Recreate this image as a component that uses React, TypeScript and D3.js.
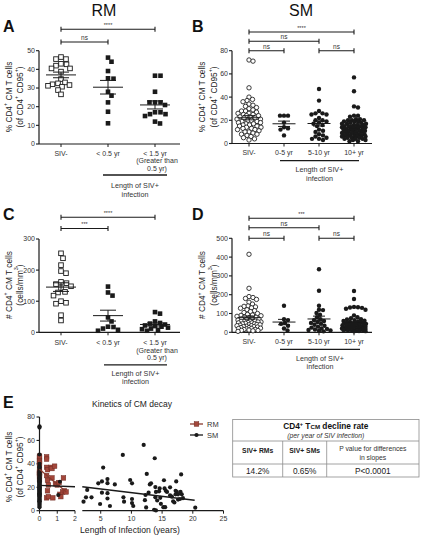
import React from "react";
import * as d3 from "d3";

const FONT = "'Liberation Sans', Arial, Helvetica, sans-serif";
const INK = "#1a1a1a";

// ---------- categories ----------
const rmCategories = ["SIV-", "< 0.5 yr", "< 1.5 yr"];
const smCategories = ["SIV-", "0-5 yr", "5-10 yr", "10+ yr"];
const rmCatLabels = [["SIV-"], ["< 0.5 yr"], ["< 1.5 yr", "(Greater than", "0.5 yr)"]];
const smCatLabels = [["SIV-"], ["0-5 yr"], ["5-10 yr"], ["10+ yr"]];

// ---------- Panel A: % CD4+ CM (RM) ----------
const rmPctSivNeg = [46.6, 45.5, 45.5, 43, 42.7, 42, 40.5, 40.5, 38.8, 34.8, 33, 32.5, 32, 31.6, 31.2, 30.7, 28.9, 26.6];
const rmPctLt05 = [46.3, 44.1, 39.1, 35.2, 35, 28, 25.9, 22.3, 17.3, 11.1];
const rmPctLt15 = [36.6, 36.6, 28, 22.3, 22.3, 22.3, 20.9, 17, 16, 15, 16, 17, 11, 12];

// ---------- Panel B: % CD4+ CM (SM) ----------
const smPctSivNeg = [72, 71, 48, 40, 38, 37, 36, 34, 33, 32, 31, 30, 29, 28, 28, 27, 26, 26, 25, 25, 24, 24, 23, 23, 22, 22, 21, 21, 20, 20, 19, 19, 18, 18, 17, 17, 16, 16, 15, 15, 14, 14, 13, 13, 12, 12, 11, 10, 10, 9, 8, 8, 7, 6, 5, 4, 3];
const smPct0to5 = [24, 24, 24, 18, 14, 13, 12, 7];
const smPct5to10 = [47, 37, 28, 26, 26, 25, 25, 22, 20, 20, 19, 18, 17, 16, 15, 12, 11, 10, 8, 7, 6, 5, 4, 4, 3];
const smPct10plus = [57, 45, 32, 31, 24, 24, 23, 21, 21, 20, 20, 20, 19, 19, 19, 18, 18, 17, 17, 17, 16, 16, 16, 15, 15, 15, 15, 14, 14, 14, 13, 13, 13, 12, 12, 12, 12, 11, 11, 11, 10, 10, 10, 10, 9, 9, 9, 8, 8, 8, 8, 7, 7, 7, 6, 6, 6, 6, 5, 5, 5, 4, 4, 4, 3, 3, 2, 2];

// ---------- Panel C: # CD4+ CM (RM) ----------
const rmCntSivNeg = [254, 238, 216, 197, 190, 162, 158, 155, 148, 142, 130, 128, 118, 100, 95, 92, 55, 38];
const rmCntLt05 = [147, 128, 118, 48, 35, 18, 17, 12, 8, 5];
const rmCntLt15 = [65, 60, 35, 30, 28, 25, 22, 20, 18, 15, 12, 10, 8, 5];

// ---------- Panel D: # CD4+ CM (SM) ----------
const smCntSivNeg = [415, 234, 190, 185, 180, 175, 160, 150, 140, 138, 135, 130, 128, 120, 115, 110, 105, 100, 95, 92, 90, 88, 85, 82, 80, 78, 75, 72, 70, 68, 65, 62, 60, 60, 58, 55, 55, 52, 50, 50, 48, 45, 45, 42, 40, 40, 38, 35, 35, 32, 30, 30, 28, 25, 25, 22, 20, 20, 18, 15, 15, 12, 10, 10, 8, 5];
const smCnt0to5 = [141, 70, 65, 50, 45, 35, 20, 10];
const smCnt5to10 = [335, 221, 141, 120, 118, 103, 93, 80, 70, 65, 60, 55, 50, 45, 40, 35, 30, 25, 20, 18, 15, 12, 10, 8, 5];
const smCnt10plus = [220, 177, 135, 133, 132, 130, 125, 120, 90, 80, 75, 70, 68, 65, 62, 60, 58, 55, 55, 52, 50, 50, 48, 45, 45, 42, 40, 40, 38, 36, 35, 34, 32, 30, 30, 28, 27, 26, 25, 24, 22, 21, 20, 20, 19, 18, 17, 16, 15, 14, 13, 12, 11, 10, 9, 8, 7, 6, 5];

// ---------- Panel E: kinetics ----------
const rmInfYears = [0.4, 0.4, 0.4, 0.45, 0.4, 0.45, 0.5, 0.45, 0.4, 0.5, 0.65, 0.7, 0.85, 0.7, 0.9, 1.0, 1.1, 1.15, 1.2, 1.3, 1.35, 1.4, 1.5, 0.75];
const rmInfPct = [46, 44, 37, 35, 30, 26, 22, 17, 11, 12, 37, 36, 38, 28, 23, 22, 24, 14, 12, 16, 28, 17, 16, 11];
const smInfYears = [1.15, 1.06, 2.2, 2.6, 2.8, 3.5, 4.6, 5.2, 5.4, 5.2, 4.9, 6.1, 6.1, 6.1, 6.1, 6.5, 7.3, 8.6, 8.7, 8.8, 9.8, 10.1, 10.1, 10.1, 10.3, 12, 12.5, 12.8, 12.3, 12.2, 12.4, 13, 13.2, 13.8, 13.9, 14, 13.9, 13.7, 14, 14.2, 14.8, 14.7, 14.6, 14.5, 15.2, 15.5, 15.4, 15.6, 15.8, 16.3, 16.6, 16.8, 17, 17.2, 17.4, 17.2, 17.6, 17.6, 17.9, 17.3, 18.1, 18, 18.2, 18.4, 20.4, 15.3, 16.3];
const smInfPct = [24.7, 13.4, 7.7, 11.4, 17.7, 11.4, 23.4, 25, 36.8, 15.4, 5.7, 27, 23.5, 15, 10.4, 4, 22.4, 47.6, 11.4, 7.7, 26.2, 23.4, 10, 6.5, 4, 56.2, 31.4, 15.4, 13.4, 9, 2.8, 22.4, 23.4, 44.8, 20.2, 16, 11.4, 0.8, 0.2, 8.7, 5.9, 11, 19, 16.5, 3, 3, 19, 17, 16, 13, 12, 8, 7, 17, 16, 14, 14, 9.5, 10, 25, 31, 16, 14, 10.7, 2.6, 26, 20];
const rmFit = { intercept: 35.4, slope: -12.8, from: 0, to: 1.5 };
const smFit = { intercept: 21.7, slope: -0.63, from: 0, to: 20.3 };

// ---------- table ----------
const tableHeaders = ["SIV+ RMs", "SIV+ SMs"];
const tableValues = ["14.2%", "0.65%", "P<0.0001"];

// ---------- helpers ----------
function swarm(vals: number[], ypx: (v: number) => number, d: number, maxHalf: number, step = 0.5) {
  const pts = vals.map((v) => ({ v, y: ypx(v), dx: 0 }));
  const order = pts.slice().sort((a, b) => a.y - b.y);
  const placed: { v: number; y: number; dx: number }[] = [];
  const offsets: number[] = [0];
  for (let k = 1; k * step <= maxHalf; k++) offsets.push(k * step, -k * step);
  for (const p of order) {
    let bestOff = 0;
    let bestScore = -1;
    for (const off of offsets) {
      let minD = Infinity;
      for (const q of placed) {
        const dd = Math.hypot(q.dx - off, q.y - p.y);
        if (dd < minD) minD = dd;
      }
      if (minD >= d) {
        bestOff = off;
        break;
      }
      if (minD > bestScore + 0.4) {
        bestScore = minD;
        bestOff = off;
      }
    }
    p.dx = bestOff;
    placed.push(p);
  }
  return pts;
}

type Part = string | { sup: string };
function Rich({ parts, fs }: { parts: Part[]; fs: number }) {
  const out: React.ReactNode[] = [];
  let raised = false;
  parts.forEach((p, i) => {
    if (typeof p === "string") {
      out.push(
        <tspan key={i} dy={raised ? fs * 0.38 : 0}>
          {p}
        </tspan>
      );
      raised = false;
    } else {
      out.push(
        <tspan key={i} dy={-fs * 0.38} fontSize={fs * 0.65}>
          {p.sup}
        </tspan>
      );
      raised = true;
    }
  });
  return <>{out}</>;
}

function Marker({ shape, x, y, s }: { shape: string; x: number; y: number; s: number }) {
  if (shape === "openSquare")
    return <rect x={x - s} y={y - s} width={2 * s} height={2 * s} fill="#fff" stroke={INK} strokeWidth={0.9} />;
  if (shape === "square") return <rect x={x - s} y={y - s} width={2 * s} height={2 * s} fill={INK} />;
  if (shape === "openCircle") return <circle cx={x} cy={y} r={s} fill="#fff" stroke={INK} strokeWidth={0.85} />;
  return <circle cx={x} cy={y} r={s} fill={INK} />;
}

type PanelProps = {
  axisLeft: number;
  axisRight: number;
  y: d3.ScaleLinear<number, number>;
  ticks: number[];
  x: d3.ScalePoint<string>;
  cats: string[];
  series: number[][];
  shapes: string[];
  s: number;
  swarmD: number;
  maxHalf: number;
  meanHalf: number;
  semHalf: number;
  catLabels: string[][];
  labelBase: number;
  grp: { x1: number; x2: number; y: number; base1: number; base2: number };
  sigs: { a: string; b: string; y: number; text: string }[];
  ylabel: Part[][];
  ylabelX: number[];
  ylabelY: number;
};

function DotPanel(p: PanelProps) {
  const y0 = p.y(0);
  const yT = p.y(p.ticks[p.ticks.length - 1]);
  return (
    <g>
      {/* y axis */}
      <line x1={p.axisLeft} x2={p.axisLeft} y1={y0} y2={yT} stroke={INK} strokeWidth={1.2} />
      {p.ticks.map((t) => (
        <g key={t}>
          <line x1={p.axisLeft - 3} x2={p.axisLeft} y1={p.y(t)} y2={p.y(t)} stroke={INK} strokeWidth={1.1} />
          <text x={p.axisLeft - 4} y={p.y(t) + 2.4} fontSize={7} textAnchor="end" fill="#333">
            {t}
          </text>
        </g>
      ))}
      {/* x axis */}
      <line x1={p.axisLeft} x2={p.axisRight} y1={y0} y2={y0} stroke={INK} strokeWidth={1.2} />
      {p.cats.map((c, i) => (
        <g key={c}>
          <line x1={p.x(c)!} x2={p.x(c)!} y1={y0} y2={y0 + 3} stroke={INK} strokeWidth={1} />
          {p.catLabels[i].map((ln, j) => (
            <text key={j} x={p.x(c)! + (j > 0 ? 2 : 0)} y={p.labelBase + j * 7.6} fontSize={7} textAnchor="middle" fill="#333">
              {ln}
            </text>
          ))}
        </g>
      ))}
      {/* group bracket */}
      <line x1={p.grp.x1} x2={p.grp.x2} y1={p.grp.y} y2={p.grp.y} stroke={INK} strokeWidth={1.3} />
      <text x={(p.grp.x1 + p.grp.x2) / 2} y={p.grp.base1} fontSize={7.2} textAnchor="middle" fill="#333">
        Length of SIV+
      </text>
      <text x={(p.grp.x1 + p.grp.x2) / 2} y={p.grp.base2} fontSize={7.2} textAnchor="middle" fill="#333">
        infection
      </text>
      {/* data */}
      {p.series.map((vals, i) => {
        const cx = p.x(p.cats[i])!;
        const pts = swarm(vals, (v) => p.y(v), p.swarmD, p.maxHalf);
        const m = d3.mean(vals)!;
        const sem = d3.deviation(vals)! / Math.sqrt(vals.length);
        return (
          <g key={i}>
            {pts.map((pt, k) => (
              <Marker key={k} shape={p.shapes[i]} x={cx + pt.dx} y={pt.y} s={p.s} />
            ))}
            <line x1={cx - p.meanHalf} x2={cx + p.meanHalf} y1={p.y(m)} y2={p.y(m)} stroke={INK} strokeWidth={1} />
            <line x1={cx} x2={cx} y1={p.y(m - sem)} y2={p.y(m + sem)} stroke={INK} strokeWidth={1} />
            <line x1={cx - p.semHalf} x2={cx + p.semHalf} y1={p.y(m + sem)} y2={p.y(m + sem)} stroke={INK} strokeWidth={1} />
            <line x1={cx - p.semHalf} x2={cx + p.semHalf} y1={p.y(m - sem)} y2={p.y(m - sem)} stroke={INK} strokeWidth={1} />
          </g>
        );
      })}
      {/* significance */}
      {p.sigs.map((s, i) => {
        const a = p.x(s.a)!;
        const b = p.x(s.b)!;
        return (
          <g key={i}>
            <line x1={a} x2={b} y1={s.y} y2={s.y} stroke={INK} strokeWidth={1.1} />
            <line x1={a} x2={a} y1={s.y - 2.5} y2={s.y + 2.5} stroke={INK} strokeWidth={1.1} />
            <line x1={b} x2={b} y1={s.y - 2.5} y2={s.y + 2.5} stroke={INK} strokeWidth={1.1} />
            <text x={(a + b) / 2} y={s.y - 2.2} fontSize={s.text === "ns" ? 6.5 : 5.5} textAnchor="middle" fill="#333">
              {s.text}
            </text>
          </g>
        );
      })}
      {/* y label */}
      {p.ylabel.map((parts, i) => (
        <text
          key={i}
          transform={`translate(${p.ylabelX[i]},${p.ylabelY}) rotate(-90)`}
          fontSize={8.3}
          textAnchor="middle"
          dominantBaseline="central"
          fill="#222"
        >
          <Rich parts={parts} fs={8.3} />
        </text>
      ))}
    </g>
  );
}

const pctLabel: Part[][] = [
  ["% CD4", { sup: "+" }, " CM T cells"],
  ["(of CD4", { sup: "+" }, " CD95", { sup: "+" }, ")"],
];
const cntLabelA: Part[][] = [["# CD4", { sup: "+" }, " CM T cells"], ["(cells/mm", { sup: "3" }, ")"]];

export default function App() {
  const xRM = d3.scalePoint<string>().domain(rmCategories).range([61, 155]);
  const xSM = d3.scalePoint<string>().domain(smCategories).range([249, 354]);
  const yA = d3.scaleLinear().domain([0, 50]).range([144, 50.7]);
  const yB = d3.scaleLinear().domain([0, 80]).range([143.5, 50.7]);
  const yC = d3.scaleLinear().domain([0, 300]).range([332.3, 239]);
  const yD = d3.scaleLinear().domain([0, 500]).range([332.3, 238.3]);

  // Panel E scales (broken x axis)
  const yE = d3.scaleLinear().domain([0, 80]).range([510.7, 417]);
  const xE1 = d3.scaleLinear().domain([0, 2]).range([39.5, 75]);
  const xE2 = d3.scaleLinear().domain([2, 25]).range([82.3, 223.5]);
  const xE = (v: number) => (v <= 2 ? xE1(v) : xE2(v));
  const RMC = "#a3463a";
  const RMS = "#6e2a22";

  const fitLine = (f: { intercept: number; slope: number }, a: number, b: number) =>
    d3.line<number>().x((v) => xE(v)).y((v) => yE(f.intercept + f.slope * v))([a, b]) || "";

  const tX0 = 232.7, tX1 = 419, tY0 = 419.5, tY1 = 477, tR1 = 441, tR2 = 464, tC1 = 282.7, tC2 = 326.7;

  return (
    <svg
      width={425}
      height={537}
      style={{ position: "absolute", left: 0, top: 0, background: "#fff" }}
      fontFamily={FONT}
    >
      <rect width={425} height={537} fill="#fff" />
      {/* titles */}
      <text x={104} y={16} fontSize={16} textAnchor="middle" fill="#111">RM</text>
      <text x={301} y={16} fontSize={16} textAnchor="middle" fill="#111">SM</text>
      <text x={3} y={32} fontSize={16} fontWeight="bold" fill="#111">A</text>
      <text x={192} y={32} fontSize={16} fontWeight="bold" fill="#111">B</text>
      <text x={3} y={220} fontSize={16} fontWeight="bold" fill="#111">C</text>
      <text x={192} y={220} fontSize={16} fontWeight="bold" fill="#111">D</text>
      <text x={3} y={408} fontSize={16} fontWeight="bold" fill="#111">E</text>

      <DotPanel
        axisLeft={39}
        axisRight={180}
        y={yA}
        ticks={[0, 10, 20, 30, 40, 50]}
        x={xRM}
        cats={rmCategories}
        series={[rmPctSivNeg, rmPctLt05, rmPctLt15]}
        shapes={["openSquare", "square", "square"]}
        s={2.3}
        swarmD={5.2}
        maxHalf={13}
        meanHalf={15}
        semHalf={8}
        catLabels={rmCatLabels}
        labelBase={155.5}
        grp={{ x1: 103, x2: 167, y: 175, base1: 188, base2: 196.5 }}
        sigs={[
          { a: "SIV-", b: "< 1.5 yr", y: 29.3, text: "****" },
          { a: "SIV-", b: "< 0.5 yr", y: 42, text: "ns" },
        ]}
        ylabel={pctLabel}
        ylabelX={[8.5, 19.5]}
        ylabelY={97}
      />
      <DotPanel
        axisLeft={232}
        axisRight={372}
        y={yB}
        ticks={[0, 20, 40, 60, 80]}
        x={xSM}
        cats={smCategories}
        series={[smPctSivNeg, smPct0to5, smPct5to10, smPct10plus]}
        shapes={["openCircle", "circle", "circle", "circle"]}
        s={2.2}
        swarmD={3.8}
        maxHalf={12}
        meanHalf={11.5}
        semHalf={6}
        catLabels={smCatLabels}
        labelBase={154.5}
        grp={{ x1: 280, x2: 359, y: 160.7, base1: 171.5, base2: 180.5 }}
        sigs={[
          { a: "SIV-", b: "10+ yr", y: 32, text: "****" },
          { a: "SIV-", b: "5-10 yr", y: 41.3, text: "ns" },
          { a: "SIV-", b: "0-5 yr", y: 50.7, text: "ns" },
          { a: "5-10 yr", b: "10+ yr", y: 50.7, text: "ns" },
        ]}
        ylabel={pctLabel}
        ylabelX={[202, 213.5]}
        ylabelY={97}
      />
      <DotPanel
        axisLeft={39}
        axisRight={180}
        y={yC}
        ticks={[0, 100, 200, 300]}
        x={xRM}
        cats={rmCategories}
        series={[rmCntSivNeg, rmCntLt05, rmCntLt15]}
        shapes={["openSquare", "square", "square"]}
        s={2.3}
        swarmD={5.2}
        maxHalf={13}
        meanHalf={15}
        semHalf={8}
        catLabels={rmCatLabels}
        labelBase={345}
        grp={{ x1: 104, x2: 167, y: 364.8, base1: 375.5, base2: 384 }}
        sigs={[
          { a: "SIV-", b: "< 1.5 yr", y: 217.3, text: "****" },
          { a: "SIV-", b: "< 0.5 yr", y: 228.5, text: "***" },
        ]}
        ylabel={cntLabelA}
        ylabelX={[8.5, 19.5]}
        ylabelY={285}
      />
      <DotPanel
        axisLeft={232}
        axisRight={372}
        y={yD}
        ticks={[0, 100, 200, 300, 400, 500]}
        x={xSM}
        cats={smCategories}
        series={[smCntSivNeg, smCnt0to5, smCnt5to10, smCnt10plus]}
        shapes={["openCircle", "circle", "circle", "circle"]}
        s={2.2}
        swarmD={3.8}
        maxHalf={12}
        meanHalf={11.5}
        semHalf={6}
        catLabels={smCatLabels}
        labelBase={344}
        grp={{ x1: 280, x2: 360, y: 349.3, base1: 360.5, base2: 369 }}
        sigs={[
          { a: "SIV-", b: "10+ yr", y: 218.3, text: "***" },
          { a: "SIV-", b: "5-10 yr", y: 227.7, text: "ns" },
          { a: "SIV-", b: "0-5 yr", y: 238.3, text: "ns" },
          { a: "5-10 yr", b: "10+ yr", y: 238.3, text: "ns" },
        ]}
        ylabel={cntLabelA}
        ylabelX={[202, 213.5]}
        ylabelY={285}
      />

      {/* ---------- Panel E ---------- */}
      <text x={132} y={407} fontSize={8.5} textAnchor="middle" fill="#222">
        Kinetics of CM decay
      </text>
      {/* y axis */}
      <line x1={39.5} x2={39.5} y1={yE(0)} y2={yE(80)} stroke={INK} strokeWidth={1.2} />
      {[0, 20, 40, 60, 80].map((t) => (
        <g key={t}>
          <line x1={36.5} x2={39.5} y1={yE(t)} y2={yE(t)} stroke={INK} strokeWidth={1.1} />
          <text x={35} y={yE(t) + 2.4} fontSize={7} textAnchor="end" fill="#333">{t}</text>
        </g>
      ))}
      {/* x axis, broken */}
      <line x1={39.5} x2={75} y1={yE(0)} y2={yE(0)} stroke={INK} strokeWidth={1.2} />
      <line x1={82.3} x2={223.5} y1={yE(0)} y2={yE(0)} stroke={INK} strokeWidth={1.2} />
      {[0, 1, 2].map((t) => (
        <g key={"a" + t}>
          <line x1={xE1(t)} x2={xE1(t)} y1={yE(0)} y2={yE(0) + 3} stroke={INK} strokeWidth={1} />
          <text x={xE1(t)} y={520.5} fontSize={7} textAnchor="middle" fill="#333">{t}</text>
        </g>
      ))}
      {[5, 10, 15, 20, 25].map((t) => (
        <g key={"b" + t}>
          <line x1={xE2(t)} x2={xE2(t)} y1={yE(0)} y2={yE(0) + 3} stroke={INK} strokeWidth={1} />
          <text x={xE2(t)} y={520.5} fontSize={7} textAnchor="middle" fill="#333">{t}</text>
        </g>
      ))}
      <text x={130} y={532.5} fontSize={8.6} textAnchor="middle" fill="#222">
        Length of Infection (years)
      </text>
      <text transform={`translate(8.5,467) rotate(-90)`} fontSize={8.3} textAnchor="middle" dominantBaseline="central" fill="#222">
        <Rich parts={pctLabel[0]} fs={8.3} />
      </text>
      <text transform={`translate(19.5,467) rotate(-90)`} fontSize={8.3} textAnchor="middle" dominantBaseline="central" fill="#222">
        <Rich parts={pctLabel[1]} fs={8.3} />
      </text>
      {/* RM points */}
      {rmPctSivNeg.map((v, i) => (
        <rect key={"rn" + i} x={xE(0) - 2.3} y={yE(v) - 2.3} width={4.6} height={4.6} fill={RMC} stroke={RMS} strokeWidth={0.5} />
      ))}
      {rmInfYears.map((t, i) => (
        <rect key={"ri" + i} x={xE(t) - 2.3} y={yE(rmInfPct[i]) - 2.3} width={4.6} height={4.6} fill={RMC} stroke={RMS} strokeWidth={0.5} />
      ))}
      {/* SM points */}
      {smPctSivNeg.map((v, i) => (
        <circle key={"sn" + i} cx={xE(0)} cy={yE(v)} r={2.1} fill={INK} />
      ))}
      {smInfYears.map((t, i) => (
        <circle key={"si" + i} cx={xE(t)} cy={yE(smInfPct[i])} r={2.1} fill={INK} />
      ))}
      {/* fits */}
      <path d={fitLine(rmFit, rmFit.from, rmFit.to)} stroke="#8a3a2e" strokeWidth={1.3} fill="none" />
      <path d={fitLine(smFit, smFit.from, 2)} stroke={INK} strokeWidth={1.3} fill="none" />
      <path d={fitLine(smFit, 2.0001, smFit.to)} stroke={INK} strokeWidth={1.3} fill="none" />

      {/* legend */}
      <line x1={190} x2={203} y1={424} y2={424} stroke="#8a3a2e" strokeWidth={1.3} />
      <rect x={194.2} y={421.7} width={4.6} height={4.6} fill={RMC} stroke={RMS} strokeWidth={0.5} />
      <text x={207} y={426.6} fontSize={7.5} fill="#333">RM</text>
      <line x1={190} x2={203} y1={435} y2={435} stroke={INK} strokeWidth={1.3} />
      <circle cx={196.5} cy={435} r={2.1} fill={INK} />
      <text x={207} y={437.6} fontSize={7.5} fill="#333">SM</text>

      {/* table */}
      <g stroke="#8c8c8c" strokeWidth={0.8} fill="none">
        <rect x={tX0} y={tY0} width={tX1 - tX0} height={tY1 - tY0} />
        <line x1={tX0} x2={tX1} y1={tR1} y2={tR1} />
        <line x1={tX0} x2={tX1} y1={tR2} y2={tR2} />
        <line x1={tC1} x2={tC1} y1={tR1} y2={tY1} />
        <line x1={tC2} x2={tC2} y1={tR1} y2={tY1} />
      </g>
      <text x={(tX0 + tX1) / 2} y={428.5} fontSize={8.3} fontWeight="bold" textAnchor="middle" fill="#111">
        CD4<tspan dy={-3} fontSize={5.5}>+</tspan>
        <tspan dy={3}> T</tspan>
        <tspan fontSize={6.2}>CM</tspan> decline rate
      </text>
      <text x={(tX0 + tX1) / 2} y={437.5} fontSize={6.8} fontStyle="italic" textAnchor="middle" fill="#333">
        (per year of SIV infection)
      </text>
      <text x={(tX0 + tC1) / 2} y={452.5} fontSize={6.8} fontWeight="bold" textAnchor="middle" fill="#222">
        {tableHeaders[0]}
      </text>
      <text x={(tC1 + tC2) / 2} y={452.5} fontSize={6.8} fontWeight="bold" textAnchor="middle" fill="#222">
        {tableHeaders[1]}
      </text>
      <text x={(tC2 + tX1) / 2} y={451} fontSize={6.8} textAnchor="middle" fill="#333">
        P value for differences
      </text>
      <text x={(tC2 + tX1) / 2} y={459.5} fontSize={6.8} textAnchor="middle" fill="#333">
        in slopes
      </text>
      <text x={(tX0 + tC1) / 2} y={474} fontSize={8.3} textAnchor="middle" fill="#222">
        {tableValues[0]}
      </text>
      <text x={(tC1 + tC2) / 2} y={474} fontSize={8.3} textAnchor="middle" fill="#222">
        {tableValues[1]}
      </text>
      <text x={(tC2 + tX1) / 2} y={474} fontSize={8.3} textAnchor="middle" fill="#222">
        {tableValues[2]}
      </text>
    </svg>
  );
}
